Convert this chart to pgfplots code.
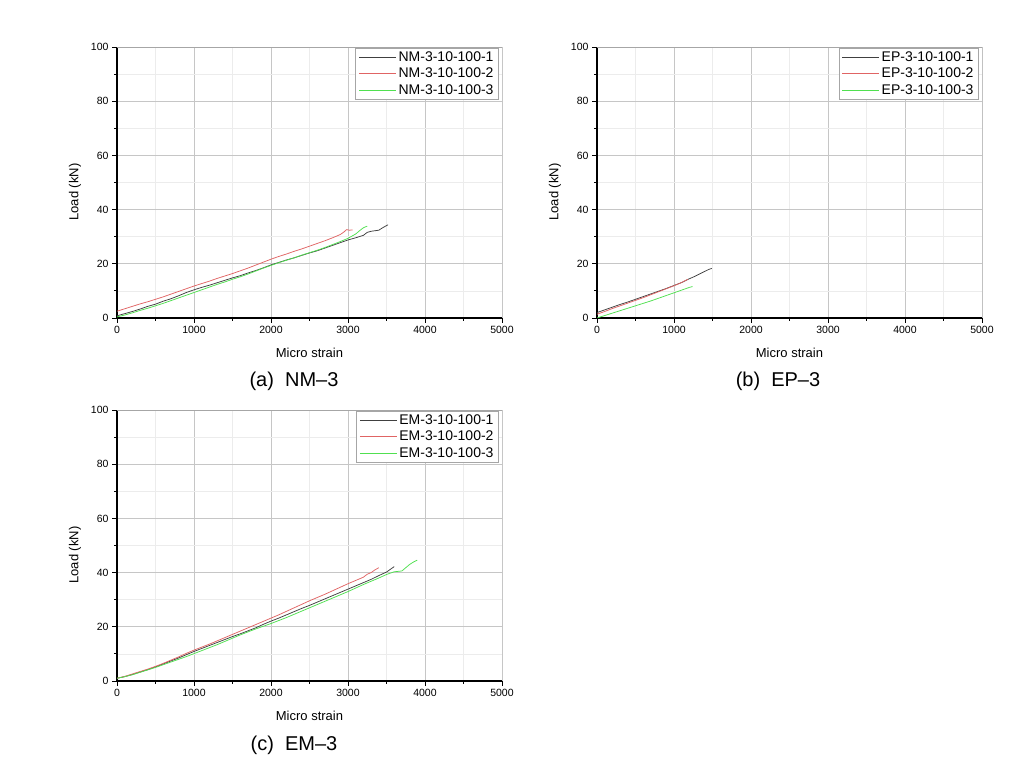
\documentclass[border=0pt]{standalone}
\usepackage{fontspec}
\setmainfont{Liberation Sans}
\usepackage{pgfplots}
\pgfplotsset{compat=1.18}
\definecolor{cblack}{HTML}{404040}
\definecolor{cred}{HTML}{E06464}
\definecolor{cgreen}{HTML}{50E050}
\pgfplotsset{
 myax/.style={
  width=385pt, height=271pt, scale only axis,
  xmin=0,xmax=5000,ymin=0,ymax=100,
  xtick={0,1000,...,5000}, ytick={0,20,...,100},
  minor x tick num=1, minor y tick num=1,
  axis lines*=left, axis line style={black, line width=1.1pt},
  tick align=outside, major tick length=5pt, minor tick length=3pt,
  tick style={black, line width=0.8pt},
  grid=both, major grid style={draw=gray!45, line width=0.9pt},
  minor grid style={draw=gray!15, line width=0.6pt},
  ticklabel style={font=\fontsize{10.5}{12}\selectfont},
  /pgf/number format/assume math mode=true,
  /pgf/number format/1000 sep={},
  xlabel={Micro strain}, ylabel={Load (kN)},
  label style={font=\fontsize{13}{15}\selectfont},
  xlabel style={at={(axis description cs:0.5,-0.129)}, anchor=center},
  ylabel style={at={(axis description cs:-0.109,0.465)}, anchor=center},
  legend style={at={(0.992,0.997)}, anchor=north east, draw=gray!70, line width=0.8pt,
    font=\fontsize{14}{16}\selectfont, inner xsep=3pt, inner ysep=1.5pt, row sep=1.2pt,
    cells={anchor=west}},
  legend image code/.code={\draw[#1] (3pt,0pt) -- (33pt,0pt); \path (0pt,0pt) -- (37pt,0pt);},
  every axis plot/.append style={line width=0.75pt},
 }
}
\begin{document}
\begin{tikzpicture}
\useasboundingbox (0pt,0pt) rectangle (1029pt,769pt);
% (a)
\begin{axis}[myax, at={(117pt,451pt)}, anchor=south west]
\draw[gray!70, line width=0.8pt] (rel axis cs:0,1) -- (rel axis cs:1,1) -- (rel axis cs:1,0);
\addplot[cblack] coordinates {(0,0.8) (100,1.6) (200,2.4) (300,3.3) (400,4.3) (500,5.1) (600,6.2) (700,7.1) (800,8.2) (900,9.4) (1000,10.4) (1100,11.3) (1200,12.1) (1300,13.0) (1400,13.9) (1500,14.8) (1600,15.6) (1700,16.6) (1800,17.5) (1900,18.5) (2000,19.6) (2100,20.5) (2200,21.4) (2300,22.2) (2400,23.1) (2500,24.0) (2600,24.8) (2700,25.8) (2800,26.8) (2900,27.8) (3000,28.8) (3100,29.6) (3200,30.5) (3250,31.6) (3300,32.0) (3350,32.2) (3400,32.4) (3450,33.3) (3520,34.4)};
\addlegendentry{NM-3-10-100-1}
\addplot[cred] coordinates {(0,2.5) (100,3.4) (200,4.3) (300,5.2) (400,6.0) (500,6.9) (600,7.8) (700,8.8) (800,9.8) (900,10.8) (1000,11.8) (1100,12.7) (1200,13.6) (1300,14.6) (1400,15.5) (1500,16.4) (1600,17.4) (1700,18.4) (1800,19.5) (1900,20.6) (2000,21.7) (2100,22.7) (2200,23.6) (2300,24.6) (2400,25.5) (2500,26.5) (2600,27.5) (2700,28.5) (2800,29.6) (2900,30.8) (2950,31.8) (2980,32.6) (3020,32.4) (3060,32.5)};
\addlegendentry{NM-3-10-100-2}
\addplot[cgreen] coordinates {(0,0.4) (100,1.1) (200,1.9) (300,2.8) (400,3.6) (500,4.5) (600,5.4) (700,6.4) (800,7.4) (900,8.4) (1000,9.4) (1100,10.4) (1200,11.4) (1300,12.4) (1400,13.3) (1500,14.3) (1600,15.2) (1700,16.2) (1800,17.3) (1900,18.4) (2000,19.4) (2100,20.4) (2200,21.3) (2300,22.2) (2400,23.2) (2500,24.1) (2600,25.0) (2700,26.0) (2800,27.1) (2900,28.2) (3000,29.4) (3050,30.2) (3100,31.0) (3150,32.2) (3200,33.3) (3250,33.9)};
\addlegendentry{NM-3-10-100-3}
\end{axis}
% (b)
\begin{axis}[myax, at={(597pt,451pt)}, anchor=south west]
\draw[gray!70, line width=0.8pt] (rel axis cs:0,1) -- (rel axis cs:1,1) -- (rel axis cs:1,0);
\addplot[cblack] coordinates {(0,2.0) (100,3.0) (200,4.0) (300,5.0) (400,5.9) (500,6.9) (600,7.9) (700,8.9) (800,9.9) (900,10.9) (1000,12.0) (1100,13.1) (1200,14.5) (1250,15.1) (1300,15.8) (1350,16.5) (1400,17.2) (1450,17.9) (1490,18.3)};
\addlegendentry{EP-3-10-100-1}
\addplot[cred] coordinates {(0,1.4) (100,2.4) (200,3.5) (300,4.5) (400,5.5) (500,6.5) (600,7.5) (700,8.6) (800,9.7) (900,10.8) (1000,11.9) (1100,13.1) (1180,14.3)};
\addlegendentry{EP-3-10-100-2}
\addplot[cgreen] coordinates {(0,0) (100,0.9) (200,1.8) (300,2.7) (400,3.6) (500,4.5) (600,5.4) (700,6.3) (800,7.3) (900,8.3) (1000,9.3) (1100,10.3) (1200,11.3) (1240,11.6)};
\addlegendentry{EP-3-10-100-3}
\end{axis}
% (c)
\begin{axis}[myax, at={(117pt,88pt)}, anchor=south west]
\draw[gray!70, line width=0.8pt] (rel axis cs:0,1) -- (rel axis cs:1,1) -- (rel axis cs:1,0);
\addplot[cblack] coordinates {(0,1.0) (100,1.6) (200,2.4) (300,3.3) (400,4.2) (500,5.2) (600,6.3) (700,7.4) (800,8.5) (900,9.7) (1000,10.9) (1100,12.0) (1200,13.1) (1300,14.2) (1400,15.3) (1500,16.4) (1600,17.4) (1700,18.5) (1800,19.6) (1900,20.9) (2000,22.1) (2100,23.2) (2200,24.4) (2300,25.6) (2400,26.8) (2500,27.9) (2600,29.1) (2700,30.3) (2800,31.5) (2900,32.7) (3000,33.9) (3100,35.1) (3200,36.3) (3300,37.5) (3400,38.9) (3500,40.2) (3600,42.2)};
\addlegendentry{EM-3-10-100-1}
\addplot[cred] coordinates {(0,1.0) (100,1.7) (200,2.6) (300,3.5) (400,4.4) (500,5.4) (600,6.5) (700,7.7) (800,8.9) (900,10.2) (1000,11.4) (1100,12.5) (1200,13.6) (1300,14.8) (1400,16.0) (1500,17.2) (1600,18.4) (1700,19.6) (1800,20.8) (1900,22.0) (2000,23.2) (2100,24.4) (2200,25.7) (2300,27.0) (2400,28.3) (2500,29.6) (2600,30.8) (2700,32.0) (2800,33.3) (2900,34.6) (3000,35.9) (3100,37.1) (3200,38.3) (3250,39.4) (3300,40.0) (3350,41.0) (3400,41.8)};
\addlegendentry{EM-3-10-100-2}
\addplot[cgreen] coordinates {(0,1.0) (100,1.6) (200,2.3) (300,3.2) (400,4.1) (500,5.0) (600,6.0) (700,7.0) (800,8.0) (900,9.0) (1000,10.1) (1100,11.2) (1200,12.3) (1300,13.4) (1400,14.6) (1500,15.8) (1600,17.0) (1700,18.1) (1800,19.2) (1900,20.2) (2000,21.2) (2100,22.3) (2200,23.4) (2300,24.6) (2400,25.8) (2500,27.0) (2600,28.2) (2700,29.4) (2800,30.6) (2900,31.8) (3000,33.0) (3100,34.3) (3200,35.6) (3300,36.8) (3400,38.0) (3500,39.3) (3600,40.3) (3700,40.6) (3750,41.8) (3800,43.0) (3850,43.9) (3900,44.6)};
\addlegendentry{EM-3-10-100-3}
\end{axis}
\node[font=\fontsize{20}{24}\selectfont] at (294pt,388pt) {(a)\ \ NM–3};
\node[font=\fontsize{20}{24}\selectfont] at (778pt,388pt) {(b)\ \ EP–3};
\node[font=\fontsize{20}{24}\selectfont] at (294pt,24pt) {(c)\ \ EM–3};
\end{tikzpicture}
\end{document}
